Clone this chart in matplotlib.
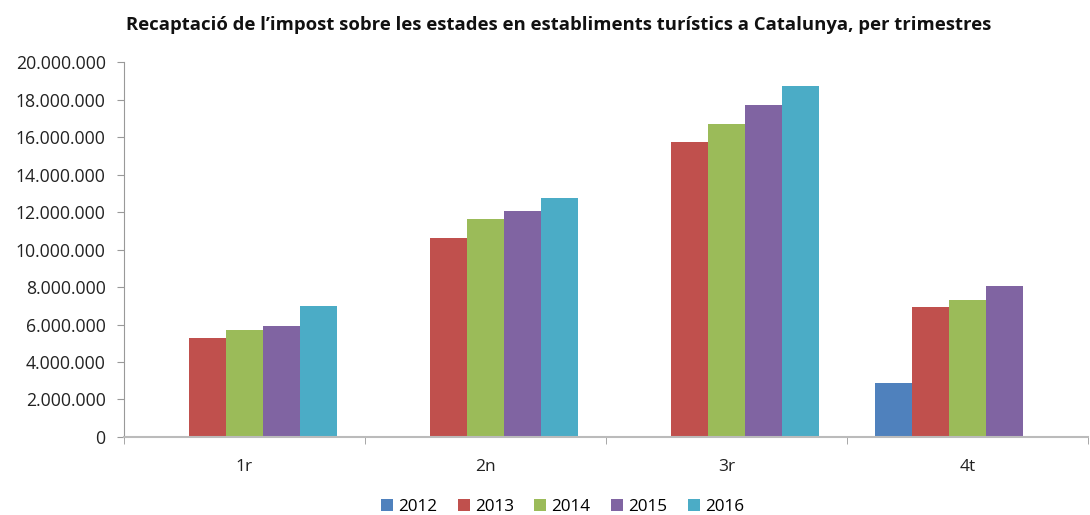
import numpy as np
import matplotlib
matplotlib.use("Agg")
import matplotlib.pyplot as plt
from matplotlib.ticker import FuncFormatter, FixedLocator

plt.rcParams["font.family"] = ["Open Sans", "DejaVu Sans"]

quarters = ["1r", "2n", "3r", "4t"]
years = ["2012", "2013", "2014", "2015", "2016"]
colors = ["#4F81BD", "#C0504D", "#9BBB59", "#8064A2", "#4BACC6"]

# values per year, one per quarter (nan = no data)
v2012 = [np.nan, np.nan, np.nan, 2880000]
v2013 = [5280000, 10610000, 15730000, 6930000]
v2014 = [5710000, 11630000, 16690000, 7310000]
v2015 = [5920000, 12050000, 17710000, 8050000]
v2016 = [6990000, 12750000, 18720000, np.nan]
series = [v2012, v2013, v2014, v2015, v2016]

fig = plt.figure(figsize=(10.9, 5.15), dpi=100)
ax = fig.add_axes([0.1135, 0.1515, 0.885, 0.728])

x = np.arange(len(quarters))
w = 1 / 6.5
for i, (vals, c, yr) in enumerate(zip(series, colors, years)):
    ax.bar(x + (i - 2) * w, vals, w, color=c, label=yr, edgecolor="none")

ax.set_xlim(-0.5, 3.5)
ax.set_ylim(0, 20000000)
ax.set_yticks(np.arange(0, 20000001, 2000000))
ax.yaxis.set_major_formatter(FuncFormatter(lambda v, p: f"{int(v):,}".replace(",", ".")))

ax.set_xticks(x)
ax.set_xticklabels(quarters)
ax.xaxis.set_minor_locator(FixedLocator(np.arange(-0.5, 3.6, 1)))
ax.tick_params(axis="x", which="major", length=0, pad=16, labelsize=12.5, colors="#222222")
ax.tick_params(axis="x", which="minor", length=5, color="#999999", direction="out")
ax.tick_params(axis="y", length=5, color="#999999", labelcolor="#222222", labelsize=12.7, pad=8)

for s in ["top", "right"]:
    ax.spines[s].set_visible(False)
ax.spines["left"].set_color("#999999")
ax.spines["bottom"].set_color("#bbbbbb")
ax.spines["bottom"].set_linewidth(1.5)

fig.text(0.513, 0.951, "Recaptació de l’impost sobre les estades en establiments turístics a Catalunya, per trimestres",
         ha="center", va="center", fontsize=13.3, fontweight="bold", color="#111111")

fig.legend(loc="center", bbox_to_anchor=(0.516, 0.016), ncol=5, frameon=False, fontsize=12.3,
           handlelength=0.7, handleheight=0.7, handletextpad=0.3, columnspacing=1.2)

fig.savefig("out.png", dpi=100)
